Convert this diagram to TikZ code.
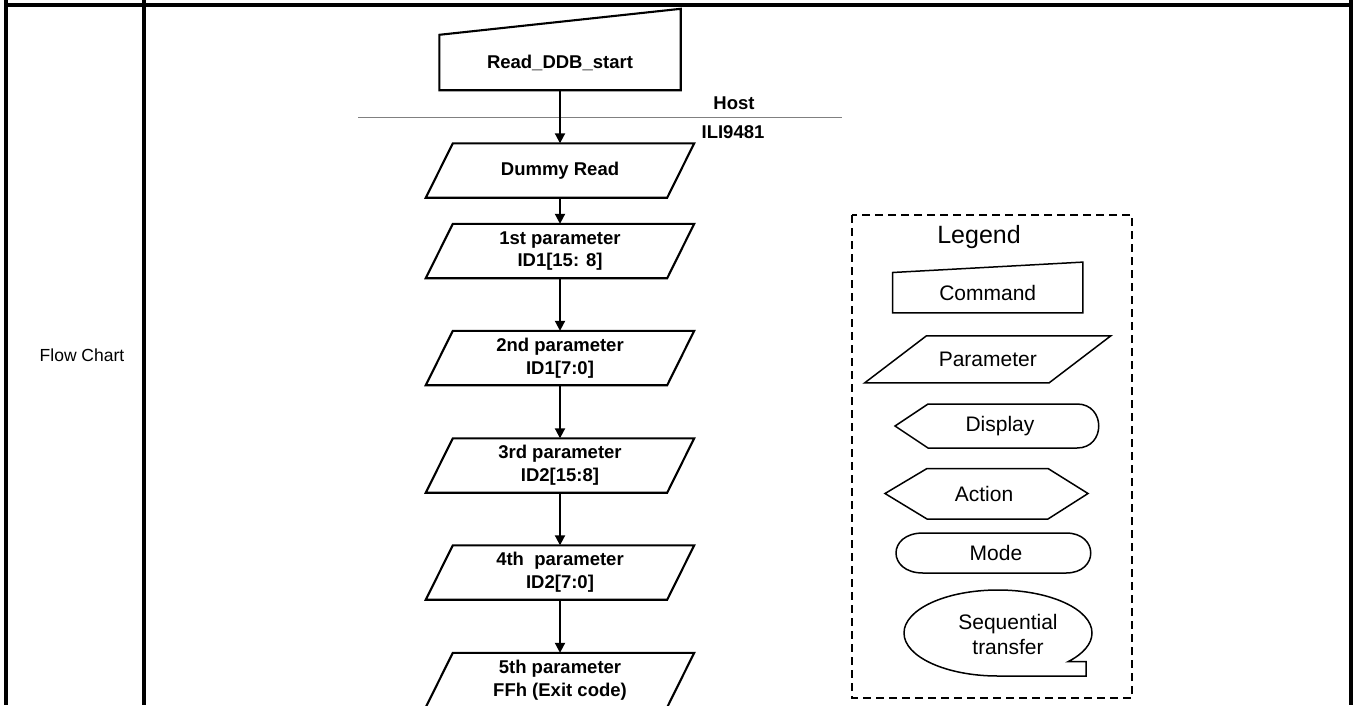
\documentclass[tikz,border=0pt]{standalone}
\usepackage{fontspec}
\setmainfont{Liberation Sans}
\usetikzlibrary{arrows.meta,calc}
\definecolor{hostGrey}{HTML}{808080}
% outline of a slanted parameter box round a plain node
\newcommand{\slantbox}[3][]{%
  \draw[#1] ([xshift=-#3]#2.south west) -- ([xshift=-#3]#2.south east)
    -- ([xshift=#3]#2.north east) -- ([xshift=#3]#2.north west) -- cycle;}

\begin{document}
\begin{tikzpicture}[x=1pt,y=-1pt,
  tbl/.style={line width=3.1pt},
  fl/.style={line width=2.1pt},
  fc/.style={font=\bfseries\fontsize{18.5pt}{22.6pt}\selectfont,align=center,inner sep=0pt},
  cmd/.style={fc,minimum width=241pt,minimum height=55pt},
  prm/.style={fc,minimum width=241pt,minimum height=54pt},
  arr/.style={line width=2pt,-{Triangle[length=10pt,width=10pt]}},
  lg/.style={font=\fontsize{21pt}{25.6pt}\selectfont,align=center},
  lgs/.style={line width=1.5pt}]
\useasboundingbox (0,0) rectangle (1357,705);

% table frame
\draw[tbl] (6,0) -- (6,705);
\draw[tbl] (144,0) -- (144,705);
\draw[tbl] (1351,0) -- (1351,705);
\draw[tbl] (6,5) -- (1351,5);
\node[font=\fontsize{17.5pt}{21pt}\selectfont] (fclabel) at (82,355) {Flow Chart};

% flow
\node[cmd] (start) at (560,62.5) {Read\_DDB\_start};
\draw[fl] (start.north west) -- ([yshift=26pt]start.north east)
  -- (start.south east) -- (start.south west) -- cycle;

\draw[hostGrey,line width=1pt] (358,117) -- (842,117);
\node[fc] (host) at (734,103) {Host};
\node[fc] (ili) at (733,132) {ILI9481};

\node[prm] (dummy) at (560,170.5) {Dummy Read};
\node[prm] (p1) at (560,251) {1st parameter\\ID1[15: 8]};
\node[prm] (p2) at (560,358) {2nd parameter\\ID1[7:0]};
\node[prm] (p3) at (560,465.5) {3rd parameter\\ID2[15:8]};
\node[prm] (p4) at (560,572.5) {4th\ \ parameter\\ID2[7:0]};
\node[prm] (p5) at (560,680) {5th parameter\\FFh (Exit code)};
\foreach \n in {dummy,p1,p2,p3,p4,p5}
  \slantbox[fl]{\n}{13.5pt};

\draw[arr] (start.south) -- (dummy.north);
\draw[arr] (dummy.south) -- (p1.north);
\draw[arr] (p1.south) -- (p2.north);
\draw[arr] (p2.south) -- (p3.north);
\draw[arr] (p3.south) -- (p4.north);
\draw[arr] (p4.south) -- (p5.north);

% legend
\draw[line width=2.4pt,dash pattern=on 8pt off 5pt] (852,215) rectangle (1132,698);
\node[font=\fontsize{25pt}{30pt}\selectfont] (lgtitle) at (979,237) {Legend};

\node[lg,minimum width=190pt,minimum height=40pt,inner sep=0pt] (lgcmd) at (987.7,292.7) {Command};
\draw[lgs] (lgcmd.north west) -- ([yshift=10.4pt]lgcmd.north east)
  -- (lgcmd.south east) -- (lgcmd.south west) -- cycle;

\node[lg,minimum width=184pt,minimum height=46.7pt,inner sep=0pt] (lgprm) at (987.8,359.3) {Parameter};
\slantbox[lgs]{lgprm}{30.9pt}

\draw[lgs] (895,426) -- (928,404) -- (1077,404) .. controls (1106,404) and (1106,448)
  .. (1077,448) -- (928,448) -- cycle;
\node[lg] (lgdisp) at (1000,426) {Display};

\draw[lgs] (885,493.5) -- (927,468.5) -- (1048,468.5) -- (1088,493.5)
  -- (1048,519) -- (927,519) -- cycle;
\node[lg] (lgact) at (984,493.5) {Action};

\draw[lgs] (923,533) -- (1066,533) .. controls (1099,533) and (1099,573) .. (1066,573)
  -- (923,573) .. controls (887,573) and (887,533) .. (923,533) -- cycle;
\node[lg] (lgmode) at (996,553) {Mode};

\draw[lgs] (998,676) arc[start angle=90,end angle=401.8,x radius=94,y radius=43]
  -- (1086,661.7) -- (1086,676) -- cycle;
\node[lg] (lgseq) at (1008,634.5) {Sequential\\transfer};
\end{tikzpicture}
\end{document}
